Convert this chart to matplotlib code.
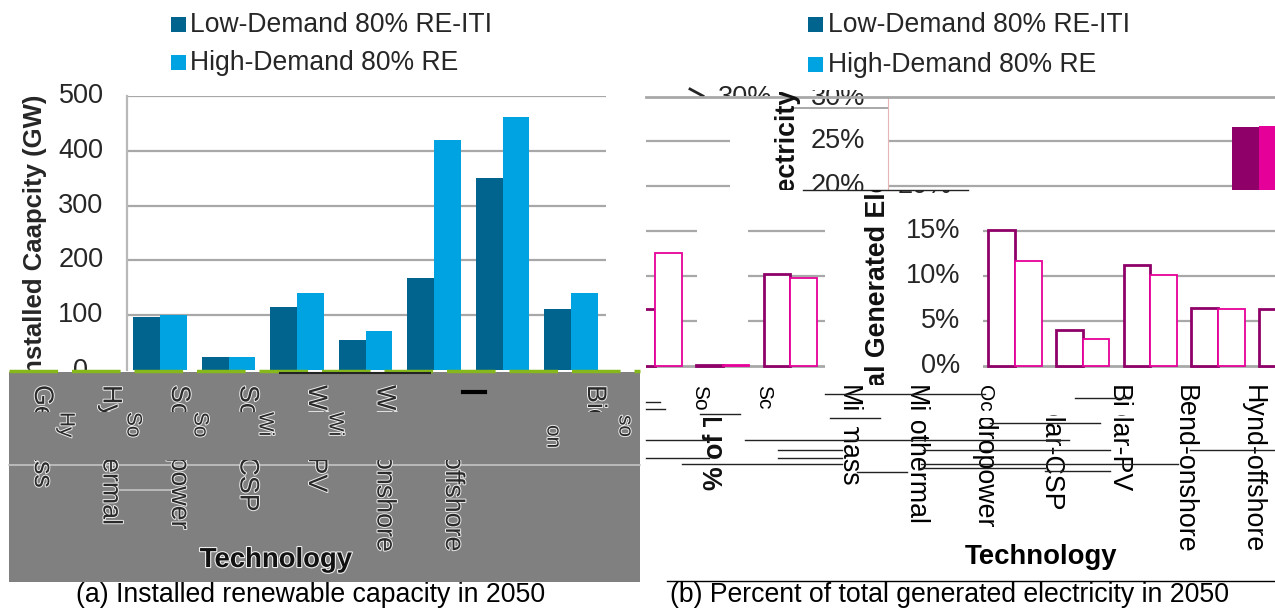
import numpy as np
import matplotlib
matplotlib.use('Agg')
import matplotlib.pyplot as plt
import matplotlib.patheffects as pe
from matplotlib.patches import Rectangle

W, H = 1275, 610
plt.rcParams['font.family'] = ['Liberation Sans', 'DejaVu Sans']

series = ['Low-Demand 80% RE-ITI', 'High-Demand 80% RE']
technologies = ['Biomass', 'Geothermal', 'Hydropower', 'Solar-CSP', 'Solar-PV',
                'Wind-onshore', 'Wind-offshore']

# (a) installed capacity, GW
cap_low = [97, 24, 115, 55, 168, 350, 112]
cap_high = [100, 24, 140, 72, 420, 462, 140]
cap_ticks = [0, 100, 200, 300, 400, 500]

# (b) percent of generated electricity
gen_low = [15.1, 4.0, 11.2, 6.4, 6.3, 0.1, 10.2]
gen_high = [11.7, 3.0, 10.1, 6.3, 12.5, 0.1, 9.8]
gen_tall = [26.5, 26.7]

DARK, LIGHT = '#00648f', '#00a3e2'
PLUM, PINK = '#8f0068', '#e6009a'
GRID = '#a8a8a8'
TXT = '#262626'
STEP = 67.6
BW = 26.7 / STEP
LABEL_FS = 19.3
TICK_FS = 19.5

fig = plt.figure(figsize=(W / 100, H / 100), dpi=100)


def px_axes(x0, y0, x1, y1, z=1):
    ax = fig.add_axes([x0 / W, 1 - y1 / H, (x1 - x0) / W, (y1 - y0) / H])
    ax.set_zorder(z)
    ax.patch.set_alpha(0)
    ax.set_xticks([])
    ax.set_yticks([])
    for s in ax.spines.values():
        s.set_visible(False)
    return ax


def gen_panel(x0, y0, x1, y1, first, z=2):
    # part of chart (b): 9 px per percent, 0% on y=366, first = px of group 0
    ax = px_axes(x0, y0, x1, y1, z)
    ax.set_xlim((x0 - first) / STEP, (x1 - first) / STEP)
    ax.set_ylim((366 - y1) / 9, (366 - y0) / 9)
    return ax


def outlined(ax, idx, lows, highs):
    idx = np.asarray(idx)
    ax.bar(idx - BW / 2, lows, BW, fc='white', ec=PLUM, lw=2, zorder=3)
    ax.bar(idx + BW / 2, highs, BW, fc='white', ec=PINK, lw=1.3, zorder=3)


# chart (a)
ax_a = px_axes(127, 96, 606, 370)
ax_a.set_xlim(-0.482, 6.51)
ax_a.set_ylim(0, 500)
ax_a.set_yticks(cap_ticks[1:])
ax_a.set_yticklabels([])
ax_a.tick_params(length=0)
ax_a.grid(axis='y', color=GRID, lw=1.6)
ax_a.set_axisbelow(True)
ax_a.spines['left'].set_visible(True)
ax_a.spines['left'].set_color('#b8b8b8')
ax_a.spines['left'].set_linewidth(1.6)
xs = np.arange(7)
ax_a.bar(xs - 0.195, cap_low, 0.39, color=DARK)
ax_a.bar(xs + 0.195, cap_high, 0.39, color=LIGHT)

# overlay in pixel coordinates for everything around the plots
top = px_axes(0, 0, W, H, 5)
top.set_xlim(0, W)
top.set_ylim(H, 0)

for v in cap_ticks[1:]:
    top.text(81, 370 - v * 0.548, str(v), fontsize=TICK_FS, color=TXT, ha='center', va='center')
top.text(81, 371, '0', fontsize=TICK_FS, color=TXT, ha='center', va='center', zorder=1)
top.text(35, 238, 'Installed Caapcity (GW)', fontsize=18.5, fontweight='bold', color=TXT,
         rotation=90, ha='center', va='center', zorder=1)

# legends
for lx, ly, tx in [(171, [17, 55], 190), (808, [17, 57], 828)]:
    for name, col, y in zip(series, [DARK, LIGHT], ly):
        top.add_patch(Rectangle((lx, y), 15, 15, fc=col, ec='none'))
        top.text(tx, y + 7.5, name, fontsize=19.1, color=TXT, va='center')

# grey band under chart (a)
top.add_patch(Rectangle((9, 372), 631, 210, fc='#808080', ec='none', zorder=2))
top.plot([9, 640], [371, 371], color='#86b81c', lw=2.5, ls=(0, (14, 4)), zorder=3)
top.plot([280, 430], [373, 373], color='#222222', lw=1.5, zorder=3)
top.plot([9, 640], [465, 465], color='#c4c4c4', lw=1.2, zorder=3)
top.plot([120, 175], [490, 490], color='#c4c4c4', lw=1.2, zorder=3)

halo = [pe.withStroke(linewidth=1.4, foreground='#ececec')]


def clipped(x, s, y0, y1, effects=None, color='#1a1a1a', start=385):
    t = top.text(x, start, s, fontsize=LABEL_FS, color=color, rotation=270, ha='center', va='top',
                 zorder=4)
    t.set_clip_on(True)
    t.set_clip_path(Rectangle((x - 20, y0), 40, y1 - y0, transform=top.transData))
    if effects:
        t.set_path_effects(effects)
    return t


# ends of the labels in the grey band, and the first letters of the shifted copy
for i, name in enumerate(technologies):
    clipped(42 + i * 68.5, name, 460, 560, effects=halo, color='#2a2a2a')
for i, name in enumerate(technologies[1:] + technologies[:1]):
    x = 42 + i * 68.5 if i < 6 else 595
    clipped(x, name, 385, 412, effects=halo, color='#2a2a2a')
for x, s, y in [(66, 'Hy', 412), (133, 'So', 412), (200, 'So', 412), (265, 'Wi', 412),
                (335, 'Wi', 412), (553, 'on', 425), (625, 'so', 415)]:
    top.text(x, y, s, fontsize=15, color='#2a2a2a', rotation=270, ha='center', va='top', zorder=4,
             path_effects=halo)
top.plot([463, 485], [392, 392], color='black', lw=3, zorder=4)
top.text(276, 560, 'Technology', fontsize=19.8, fontweight='bold', color='#111111', ha='center',
         va='center', zorder=4, path_effects=[pe.withStroke(linewidth=1.6, foreground='#eeeeee')])

# chart (b), lower right piece
ax_low = gen_panel(983, 222, 1275, 372, 1015)
for y in [5, 10, 15]:
    ax_low.plot(ax_low.get_xlim(), [y, y], color=GRID, lw=1.6, zorder=1)
ax_low.plot(ax_low.get_xlim(), [0, 0], color=GRID, lw=2, zorder=1)
outlined(ax_low, range(5), gen_low[:5], gen_high[:5])

# lower left piece, shifted along x
ax_low2 = gen_panel(646, 222, 825, 372, 655 - 4 * STEP)
for y in [5, 10, 15]:
    ax_low2.plot(ax_low2.get_xlim(), [y, y], color=GRID, lw=1.6, zorder=1)
ax_low2.plot(ax_low2.get_xlim(), [0, 0], color=GRID, lw=2, zorder=1)
outlined(ax_low2, range(4, 7), gen_low[4:], gen_high[4:])

# white gap hiding the grid around the empty group
ax_low2.bar(5, 14.9, 0.76, bottom=0.8, color='white', zorder=2)

# upper pieces
ax_up = gen_panel(888, 97, 1275, 190, 1259)
ax_up.spines['left'].set_visible(True)
ax_up.spines['left'].set_color('#e8b4b4')
for y in [20, 25]:
    ax_up.plot(ax_up.get_xlim(), [y, y], color=GRID, lw=1.6, zorder=1)
ax_up.bar(-BW / 2, gen_tall[0], BW, color=PLUM, zorder=3)
ax_up.bar(BW / 2, gen_tall[1], BW, color=PINK, zorder=3)

ax_up2 = gen_panel(646, 97, 730, 190, 646 - BW / 2 * STEP)
for y in [20, 25]:
    ax_up2.plot(ax_up2.get_xlim(), [y, y], color=GRID, lw=1.6, zorder=1)
ax_up2.bar(0, gen_tall[1], BW, color=PINK, zorder=3)

top.plot([646, 1275], [97, 97], color=GRID, lw=2, zorder=3)
top.plot([794, 887], [108, 108], color=GRID, lw=1.4, zorder=3)
top.plot([803, 968], [190, 190], color='#222222', lw=1, zorder=3)


def cut_tick(x, y, label, x0, y0, w, h):
    t = top.text(x, y, label, fontsize=TICK_FS, color=TXT, ha='center', va='center', zorder=1)
    t.set_clip_on(True)
    t.set_clip_path(Rectangle((x0, y0), w, h, transform=top.transData))


# tick labels of (b), some of them cut by the pieces above
cut_tick(838, 141, '25%', 800, 110, 80, 80)
cut_tick(838, 186, '20%', 800, 110, 80, 80)
cut_tick(838, 98, '30%', 800, 90, 80, 17)
cut_tick(745, 98, '30%', 710, 80, 70, 16)
cut_tick(925, 186, '20%', 890, 191, 70, 15)
top.plot([690, 703], [89, 96], color=TXT, lw=2, zorder=1)
for label, y in [('15%', 231), ('10%', 276), ('5%', 321), ('0%', 366)]:
    top.text(960, y, label, fontsize=TICK_FS, color=TXT, ha='right', va='center')

# y label of (b) in three pieces
for x, y0, y1 in [(788, 92, 190), (878, 190, 385), (716, 418, 492)]:
    t = top.text(x, 290, '% of Total Generated Electricity', fontsize=19.3, fontweight='bold', color='#111111',
                 rotation=90, ha='center', va='center', zorder=3)
    t.set_clip_on(True)
    t.set_clip_path(Rectangle((x - 20, y0), 40, y1 - y0, transform=top.transData))

# labels of (b)
for i, (name, y0) in enumerate(zip(technologies, [427, 421, 418, 415, 415, 416, 416])):
    clipped(848 + i * 67.6, name, y0, 560, color='black')
for x, s in [(848, 'Mi'), (915, 'Mi'), (1118, 'Bi'), (1185, 'Be'), (1253, 'Hy')]:
    top.text(x, 385, s, fontsize=LABEL_FS, color='black', rotation=270, ha='center', va='top', zorder=4)
for x, s in [(700, 'So'), (764, 'Sc'), (985, 'Oc')]:
    top.text(x, 385, s, fontsize=15, color='black', rotation=270, ha='center', va='top', zorder=4)
top.text(1041, 557, 'Technology', fontsize=19.8, fontweight='bold', color='black', ha='center', va='center')

# broken horizontal scan lines
scan = [(440, 646, 709), (440, 745, 1069), (450, 778, 842), (450, 923, 1110), (450, 1190, 1275),
        (458, 646, 709), (458, 778, 842), (464, 682, 842), (464, 921, 1178), (468, 921, 1045),
        (472, 857, 907), (471, 1045, 1110), (394, 825, 985), (398, 1075, 1130), (402, 646, 660),
        (409, 646, 665), (414, 700, 740), (418, 830, 880), (423, 990, 1100)]
for y, x0, x1 in scan:
    top.plot([x0, x1], [y, y], color='#222222', lw=1, zorder=5)

# sub captions
top.text(310.5, 595, '(a) Installed renewable capacity in 2050', fontsize=19.2, color='black',
         ha='center', va='center')
top.plot([667, 1275], [581, 581], color='black', lw=1, zorder=5)
top.text(949, 595, '(b) Percent of total generated electricity in 2050', fontsize=19.2, color='black',
         ha='center', va='center')

fig.savefig('out.png', dpi=100)
